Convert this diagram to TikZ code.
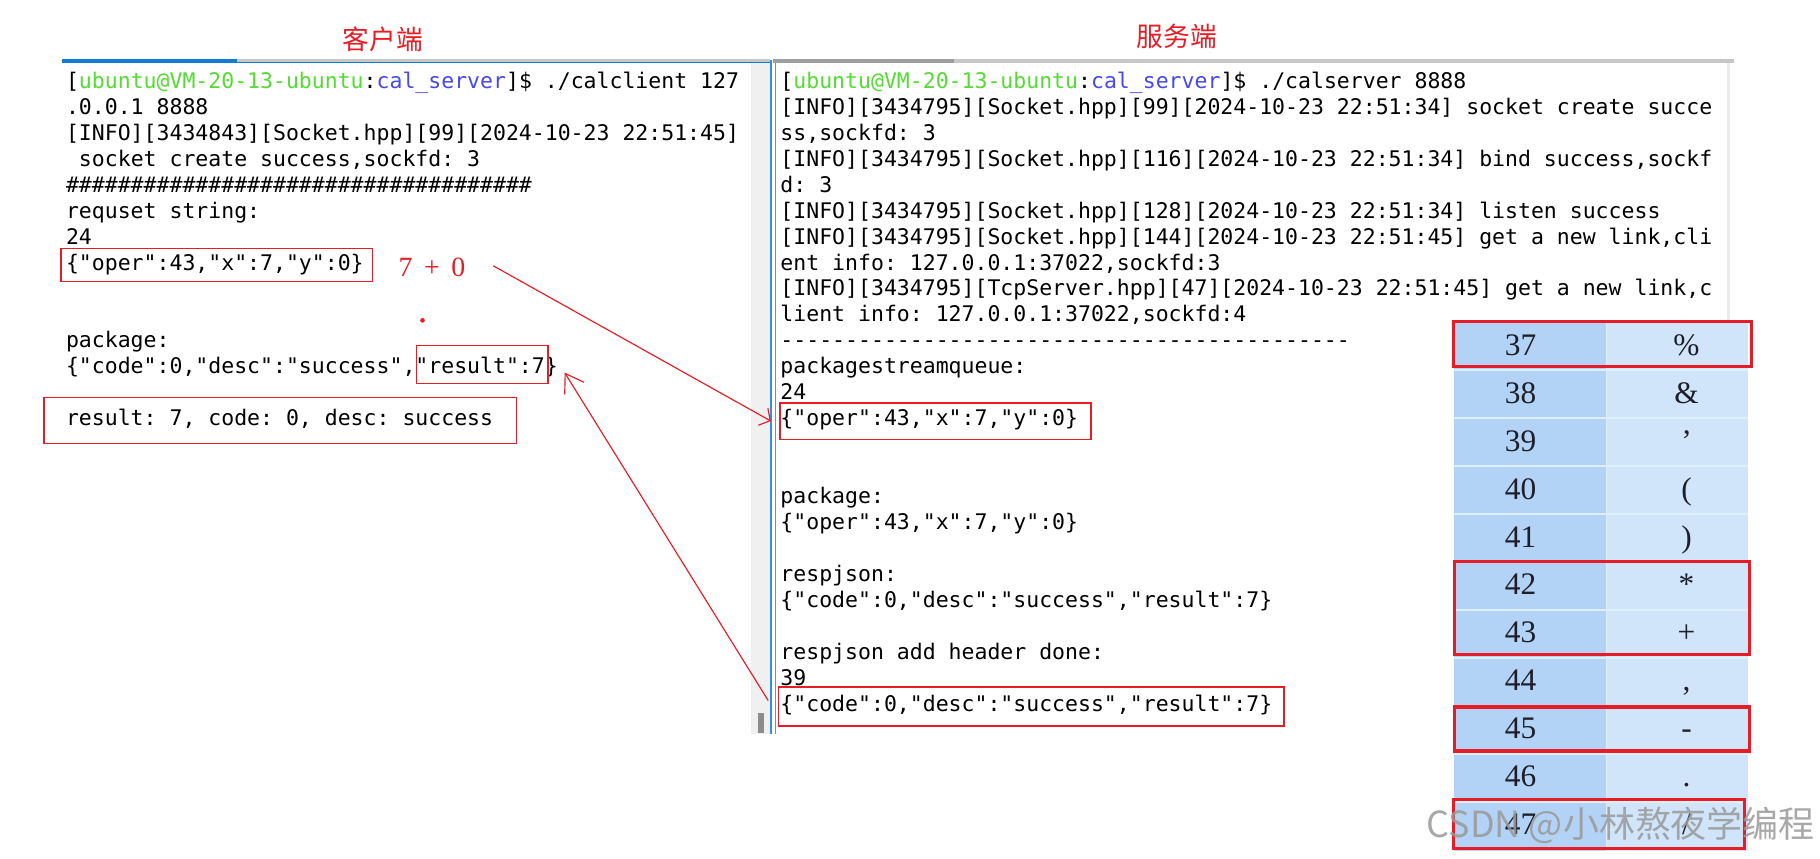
\documentclass[tikz,border=0pt]{standalone}
\usepackage{fontspec}
\setmainfont{Liberation Serif}
\setmonofont{DejaVu Sans Mono}
\newfontfamily\cjk{Noto Sans CJK SC}
\usetikzlibrary{arrows.meta,fit}
\definecolor{redc}{RGB}{232,28,36}
\definecolor{tgreen}{RGB}{84,220,52}
\definecolor{tblue}{RGB}{72,72,235}
\definecolor{leftc}{RGB}{178,211,245}
\definecolor{rightc}{RGB}{208,229,250}
\definecolor{sepc}{RGB}{222,238,250}
\definecolor{tabtxt}{RGB}{30,30,42}
\definecolor{bluebar}{RGB}{16,124,212}
\definecolor{scrollc}{RGB}{240,240,240}
\begin{document}
\begin{tikzpicture}[x=0.5pt,y=-0.5pt,
  term/.style={anchor=base west, inner sep=0pt, font=\ttfamily\fontsize{9.26pt}{11pt}\selectfont},
  redbox/.style={draw=redc, line width=0.65pt, inner sep=0pt},
  tabbox/.style={draw=redc, line width=1.4pt, inner sep=0pt},
  titletext/.style={text=redc, inner sep=0pt, font=\cjk\fontsize{11.5pt}{12pt}\selectfont},
  tabnum/.style={anchor=base, text=tabtxt, inner sep=0pt, font=\fontsize{13.5pt}{14pt}\selectfont},
  redline/.style={draw=redc, line width=0.5pt}
]
\fill[white] (0,0) rectangle (1568,739.2);
\useasboundingbox (0,0) rectangle (1568,739.2);

% titles
\node[titletext] (tc) at (330,33.7) {客户端};
\node[titletext] (ts) at (1014,31.6) {服务端};

% window frames
\fill[scrollc] (647,54) rectangle (664,632);
\fill[black!45] (652.7,614) rectangle (658,631.6);
\draw[bluebar!85, line width=0.6pt] (664.3,52) -- (664.3,632);
\draw[black!45, line width=0.6pt] (668,52) -- (668,632);
\fill[black!8] (1487.5,54) rectangle (1490.5,277);
\fill[black!22] (204,51) rectangle (663,53);
\draw[bluebar, line width=0.6pt] (204,53.6) -- (663,53.6);
\fill[bluebar] (53.4,50.8) rectangle (204,54.3);
\fill[black!38] (666,50.8) rectangle (822,54.2);
\fill[black!22] (822,51) rectangle (1494,54);

% client terminal
\node[term] (c1) at (56.5,76) {[\textcolor{tgreen}{ubuntu@VM-20-13-ubuntu}:\textcolor{tblue}{cal\_server}]\$ ./calclient 127};
\node[term] (c2) at (56.5,98.375) {.0.0.1 8888};
\node[term] (c3) at (56.5,120.75) {[INFO][3434843][Socket.hpp][99][2024-10-23 22:51:45]};
\node[term] (c4) at (56.5,143.125) {\ socket create success,sockfd: 3};
\node[term] (c5) at (56.5,165.5) {\#\#\#\#\#\#\#\#\#\#\#\#\#\#\#\#\#\#\#\#\#\#\#\#\#\#\#\#\#\#\#\#\#\#\#\#};
\node[term] (c6) at (56.5,187.875) {requset string:};
\node[term] (c7) at (56.5,210.25) {24};
\node[term] (c8) at (56.5,232.625) {\{"oper":43,"x":7,"y":0\}};
\node[term] (c11) at (56.5,299.75) {package:};
\node[term] (c12) at (56.5,322.125) {\{"code":0,"desc":"success","result":7\}};
\node[term] (c14) at (56.5,366.875) {result: 7, code: 0, desc: success};

\node[redbox, fit={(52.7,214) (321,242.7)}] (cb1) {};
\node[redbox, fit={(359,297.5) (472,330.3)}] (cres) {};
\node[redbox, fit={(38,342.6) (445,382)}] (cout) {};

\node[anchor=base west, text=redc, inner sep=0pt, font=\fontsize{12pt}{13pt}\selectfont] (eq) at (343,238) {7\hspace{5pt}+\hspace{5pt}0};
\fill[redc] (364,276) circle (1pt);

% server terminal
\node[term] (s1) at (672,76) {[\textcolor{tgreen}{ubuntu@VM-20-13-ubuntu}:\textcolor{tblue}{cal\_server}]\$ ./calserver 8888};
\node[term] (s2) at (672,98.375) {[INFO][3434795][Socket.hpp][99][2024-10-23 22:51:34] socket create succe};
\node[term] (s3) at (672,120.75) {ss,sockfd: 3};
\node[term] (s4) at (672,143.125) {[INFO][3434795][Socket.hpp][116][2024-10-23 22:51:34] bind success,sockf};
\node[term] (s5) at (672,165.5) {d: 3};
\node[term] (s6) at (672,187.875) {[INFO][3434795][Socket.hpp][128][2024-10-23 22:51:34] listen success};
\node[term] (s7) at (672,210.25) {[INFO][3434795][Socket.hpp][144][2024-10-23 22:51:45] get a new link,cli};
\node[term] (s8) at (672,232.625) {ent info: 127.0.0.1:37022,sockfd:3};
\node[term] (s9) at (672,255) {[INFO][3434795][TcpServer.hpp][47][2024-10-23 22:51:45] get a new link,c};
\node[term] (s10) at (672,277.375) {lient info: 127.0.0.1:37022,sockfd:4};
\node[term] (s11) at (672,299.75) {--------------------------------------------};
\node[term] (s12) at (672,322.125) {packagestreamqueue:};
\node[term] (s13) at (672,344.5) {24};
\node[term] (s14) at (672,366.875) {\{"oper":43,"x":7,"y":0\}};
\node[term] (s17) at (672,434) {package:};
\node[term] (s18) at (672,456.375) {\{"oper":43,"x":7,"y":0\}};
\node[term] (s20) at (672,501.125) {respjson:};
\node[term] (s21) at (672,523.5) {\{"code":0,"desc":"success","result":7\}};
\node[term] (s23) at (672,568.25) {respjson add header done:};
\node[term] (s24) at (672,590.625) {39};
\node[term] (s25) at (672,613) {\{"code":0,"desc":"success","result":7\}};

\node[redbox, fit={(672,347) (940,378.5)}] (sb1) {};
\node[redbox, fit={(670.5,592) (1106,625.5)}] (sb2) {};

% arrows
\coordinate (a1s) at (425,229);
\draw[redline, -{Straight Barb[length=3.5pt,width=8.4pt]}] (a1s) -- ([xshift=-3.6pt]sb1.west);
\draw[redline, -{Straight Barb[length=7.5pt,width=9.8pt]}] ([xshift=-4pt,yshift=2.6pt]sb2.west) -- ([xshift=6.9pt,yshift=-3.55pt]cres.east);

% ASCII table
\fill[leftc] (1252.6,277.5) rectangle (1384,733);
\fill[rightc] (1384,277.5) rectangle (1506,733);
\draw[sepc, line width=0.6pt] (1384,277.5) -- (1384,733);
\foreach \k in {1,...,10}
  \draw[sepc, line width=1pt] (1252.6,{277.5+\k*41.32}) -- (1506,{277.5+\k*41.32});
\foreach \n/\s [count=\k from 0] in {37/\%,38/\&,39/',40/(,41/),42/*,43/+,44/{,},45/-,46/.,47/{/}} {
  \node[tabnum] (n\n) at (1310,{306+\k*41.32}) {\n};
  \node[tabnum] (g\n) at (1453,{306+\k*41.32}) {\s};
}
\node[tabbox, fit={(1252,277) (1509,316)}] (r37) {};
\node[tabbox, fit={(1253,483.6) (1507,564)}] (r42) {};
\node[tabbox, fit={(1253,609) (1507,647)}] (r45) {};
\node[tabbox, fit={(1252,688.6) (1503,731)}] (r47) {};

% watermark
\node[anchor=east, text=black!40, text opacity=0.85, inner sep=0pt, font=\cjk\fontsize{15.5pt}{16pt}\selectfont] (wm) at (1564,711) {CSDN @小林熬夜学编程};
\end{tikzpicture}
\end{document}
